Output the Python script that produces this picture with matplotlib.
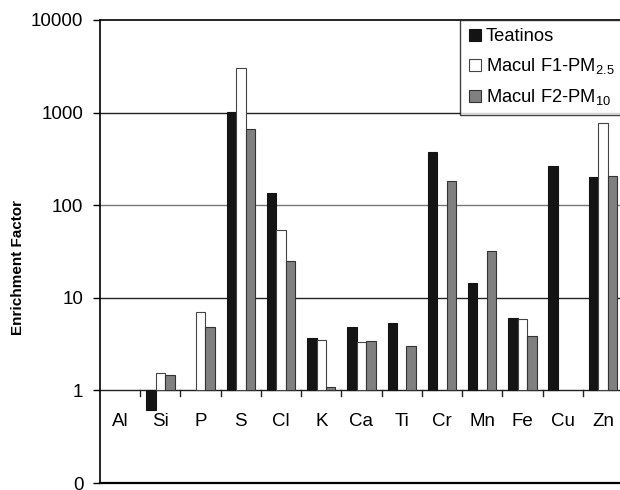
import numpy as np
import matplotlib
matplotlib.use("Agg")
import matplotlib.pyplot as plt

plt.rcParams['font.family'] = ['Liberation Sans', 'DejaVu Sans']
plt.rcParams['mathtext.fontset'] = 'custom'
plt.rcParams['mathtext.rm'] = 'Liberation Sans'
plt.rcParams['mathtext.it'] = 'Liberation Sans'
plt.rcParams['mathtext.default'] = 'regular'

elements = ["Al", "Si", "P", "S", "Cl", "K", "Ca", "Ti", "Cr", "Mn", "Fe", "Cu", "Zn"]
nan = np.nan
teatinos = [nan, 0.61, nan, 1025, 134, 3.64, 4.83, 5.33, 374, 14.6, 6.04, 267, 201]
macul_f1 = [nan, 1.55, 7.07, 3000, 53.4, 3.53, 3.30, nan, nan, nan, 5.85, nan, 778]
macul_f2 = [nan, 1.46, 4.83, 659, 24.9, 1.10, 3.44, 3.01, 182, 32.3, 3.86, nan, 206]
series_names = ["Teatinos", "Macul F1-PM$_{2.5}$", "Macul F2-PM$_{10}$"]
yticks = [0.1, 1, 10, 100, 1000, 10000]
ytick_labels = ["0", "1", "10", "100", "1000", "10000"]

fig = plt.figure(figsize=(6.2, 4.9), dpi=100)
ax = fig.add_axes([100/620, 7/490, 523/620, 463/490])
ax.set_yscale('log')
ax.set_ylim(0.1, 10000)
ax.set_xlim(0, len(elements))

x = np.arange(len(elements)) + 0.5
w = 0.235
colors = ['#141414', '#ffffff', '#808080']
edges = ['#141414', '#444444', '#333333']
for i, (vals, c, ec, name) in enumerate(zip([teatinos, macul_f1, macul_f2], colors, edges, series_names)):
    v = np.array(vals, dtype=float)
    ax.bar(x + (i - 1) * w, v - 1, bottom=1, width=w, color=c, edgecolor=ec,
           linewidth=0.8, label=name, zorder=3)

for yv, col in [(10, '#222222'), (100, '#777777'), (1000, '#222222'), (1, '#222222')]:
    ax.axhline(yv, color=col, linewidth=1.0, zorder=2)

# category boundary ticks on the crossing axis at 1
for b in range(1, len(elements)):
    ax.plot([b, b], [1, 10 ** (-0.065)], color='#222222', linewidth=1.0, zorder=2, clip_on=False)

for xi, lab in zip(x, elements):
    ax.text(xi, 0.46, lab, ha='center', va='center', fontsize=13.5)

ax.set_yticks(yticks)
ax.set_yticklabels(ytick_labels, fontsize=13.5)
ax.yaxis.set_minor_locator(matplotlib.ticker.NullLocator())
ax.tick_params(axis='y', direction='out', length=5, width=1, pad=7)
ax.set_xticks([])
ax.spines['right'].set_visible(False)
ax.spines['left'].set_linewidth(1.2)
ax.spines['bottom'].set_linewidth(1.6)
ax.spines['top'].set_linewidth(1.2)
ax.set_ylabel("Enrichment Factor", fontsize=11, fontweight='bold')
ax.yaxis.set_label_coords(-0.143, 0.4665)

leg = ax.legend(loc='upper right', bbox_to_anchor=(1.0, 1.0), borderaxespad=0,
                fontsize=13.2, frameon=True, fancybox=False, handlelength=0.65,
                handleheight=0.65, handletextpad=0.3, labelspacing=0.6,
                borderpad=0.45)
leg.get_frame().set_edgecolor('#111111')
leg.get_frame().set_linewidth(1.0)

fig.savefig("out.png", dpi=100)
